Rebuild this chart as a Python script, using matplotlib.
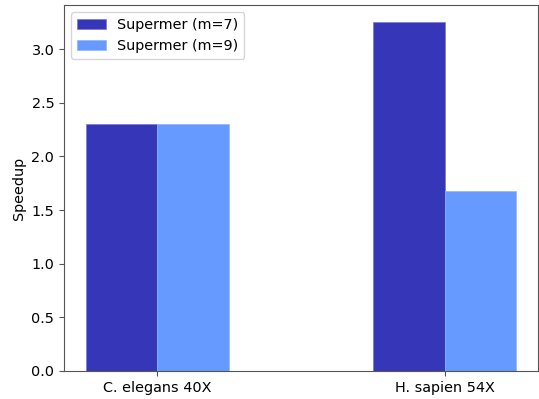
import numpy as np
import matplotlib
matplotlib.use("Agg")
import matplotlib.pyplot as plt

datasets = ["C. elegans 40X", "H. sapien 54X"]
speedup_m7 = [2.30, 3.25]
speedup_m9 = [2.30, 1.68]

plt.rcParams["font.size"] = 10.4

x = np.arange(len(datasets))
width = 0.25

fig, ax = plt.subplots(figsize=(5.39, 3.99), dpi=100)
fig.subplots_adjust(left=64 / 539, right=538 / 539, top=1 - 5 / 399, bottom=1 - 371 / 399)

ax.bar(x - width / 2, speedup_m7, width, color="#3636B9", edgecolor="#7777D5", linewidth=0.5,
       label="Supermer (m=7)")
ax.bar(x + width / 2, speedup_m9, width, color="#669AFF", edgecolor="#8FB5FF", linewidth=0.5,
       label="Supermer (m=9)")

ax.set_xticks(x)
ax.set_xticklabels(datasets)
ax.set_ylabel("Speedup")
for s in ax.spines.values():
    s.set_color("#555555")
ax.tick_params(color="#555555")
ax.legend(loc="upper left")

plt.savefig("out.png")
